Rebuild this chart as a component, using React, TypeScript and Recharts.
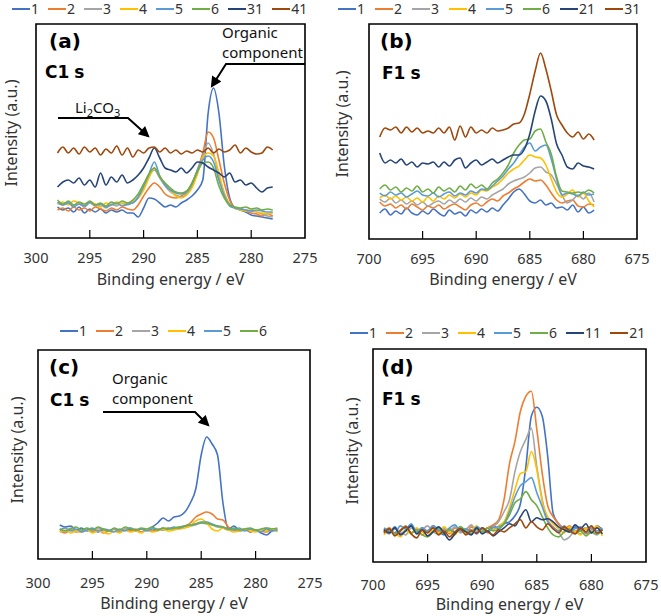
import React from 'react';
import { LineChart, Line, XAxis, YAxis, ReferenceArea, ReferenceLine } from 'recharts';

// ---------- x grids (binding energy, eV) ----------
const energyC = [298,297.5,297,296.5,296,295.5,295,294.5,294,293.5,293,292.5,292,291.5,291,290.5,290,289.5,289,288.5,288,287.5,287,286.5,286,285.5,285,284.5,284,283.5,283,282.5,282,281.5,281,280.5,280,279.5,279,278.5,278];
const energyF = [699,698.5,698,697.5,697,696.5,696,695.5,695,694.5,694,693.5,693,692.5,692,691.5,691,690.5,690,689.5,689,688.5,688,687.5,687,686.5,686,685.5,685,684.5,684,683.5,683,682.5,682,681.5,681,680.5,680,679.5,679];
const ticksC = [300, 295, 290, 285, 280, 275];
const ticksF = [700, 695, 690, 685, 680, 675];

// ---------- colours ----------
const C1 = '#4472C4', C2 = '#ED7D31', C3 = '#A5A5A5', C4 = '#FFC000', C5 = '#5B9BD5', C6 = '#70AD47', C7 = '#264478', C8 = '#9E480E';

// ---------- (a) C1s ----------
const a1 = [31,28,30,26,31,25,29,26,29,25,28,26,28,25,25,21,30,40,39,35,31,33,31,35,38,42,48,58,125,150,125,72,40,30,28,26,23,22,21,20,19];
const a2 = [28,30,27,31,28,30,27,31,29,27,30,28,31,29,28,33,42,50,55,51,44,41,40,42,46,55,68,85,106,100,78,55,38,30,29,27,25,24,22,24,22];
const a3 = [35,33,36,32,34,31,35,32,33,30,34,32,35,33,36,40,50,62,68,60,52,46,43,41,44,52,66,82,95,84,62,45,34,30,29,28,27,26,24,22,21];
const a4 = [34,36,33,37,35,33,36,34,31,35,33,36,34,35,37,40,48,60,70,62,54,47,42,40,43,50,64,80,85,82,65,44,33,30,28,27,28,26,25,24,25];
const a5 = [36,33,35,31,34,32,36,33,34,31,33,35,32,34,35,41,52,64,76,62,53,48,45,44,46,54,68,78,82,76,58,42,32,30,29,28,27,28,27,26,26];
const a6 = [38,34,37,33,36,34,37,33,35,32,36,34,37,35,38,44,54,64,70,61,55,50,46,45,47,55,66,75,76,70,52,40,33,31,30,31,29,30,28,29,28];
const a31 = [51,56,58,55,60,53,58,51,65,53,61,56,63,55,58,63,70,80,90,80,70,68,66,70,65,70,76,75,71,68,65,61,65,56,58,53,55,50,46,50,51];
const a41 = [85,91,85,90,84,91,86,90,83,89,85,92,83,90,81,88,85,90,91,86,90,85,88,84,87,85,88,86,90,85,89,86,88,93,85,90,86,84,85,91,88];

// ---------- (b) F1s ----------
const b1 = [26,30,24,28,25,31,26,24,28,25,30,26,23,29,25,27,23,29,26,30,27,31,28,34,40,47,50,45,38,36,39,34,36,31,32,29,34,27,32,26,29];
const b2 = [37,33,35,31,34,30,35,32,29,33,31,34,30,33,35,32,29,34,36,33,37,40,38,43,46,50,53,57,60,58,59,54,46,39,36,38,39,33,32,35,34];
const b3 = [40,37,41,36,39,35,38,34,37,33,36,38,35,39,36,40,37,41,38,42,40,44,47,50,55,58,60,62,66,71,72,67,64,55,44,36,39,44,40,46,37];
const b4 = [41,44,40,43,39,42,38,41,37,42,38,43,40,44,41,45,42,46,44,49,48,52,55,60,66,70,73,79,84,82,81,74,60,47,42,45,49,42,46,38,32];
const b5 = [46,43,47,44,46,42,45,48,44,43,46,42,45,47,43,46,44,48,46,50,49,53,58,63,70,76,84,92,96,88,92,94,80,60,44,46,45,43,47,44,45];
const b6 = [50,54,49,52,47,51,48,53,47,50,46,52,48,51,47,53,49,55,51,54,50,56,60,66,74,86,94,99,100,108,110,97,85,62,48,47,46,47,46,49,46];
const b21 = [86,76,79,76,80,74,77,72,76,75,77,72,77,73,79,81,71,76,79,74,77,80,76,79,82,84,84,90,105,128,143,138,120,95,84,72,70,76,73,72,70];
const b31 = [102,111,109,112,106,112,107,111,106,108,106,111,106,112,99,113,102,112,106,109,106,111,108,109,111,115,116,125,145,168,186,170,148,124,114,106,102,107,100,105,99];

// ---------- (c) C1s ----------
const c1 = [34,32,33,29,31,28,30,27,29,28,30,27,30,29,28,30,29,32,36,41,38,42,43,47,56,70,104,122,115,104,56,30,33,29,30,27,29,26,24,28,30];
const c2 = [28,26,29,27,28,30,27,29,26,28,30,27,29,28,30,27,29,28,30,29,31,30,32,33,36,42,45,47,45,40,39,32,29,28,30,27,29,28,27,29,28];
const c3 = [30,28,31,29,27,30,28,31,29,28,30,28,29,31,28,30,29,31,30,29,31,30,31,32,33,34,36,35,34,32,31,29,30,28,29,30,28,29,31,30,29];
const c4 = [27,29,26,28,27,29,26,28,27,25,28,26,29,27,28,26,29,27,28,30,28,29,30,31,33,38,40,36,30,28,31,29,27,28,30,28,27,29,28,30,27];
const c5 = [29,31,28,30,27,29,31,28,30,29,27,30,28,31,29,30,28,30,29,31,30,32,31,33,34,35,37,37,35,33,32,30,29,31,28,30,29,27,30,28,29];
const c6 = [30,28,30,32,29,31,29,32,30,28,31,29,32,30,29,31,30,32,29,31,30,31,32,33,34,35,36,36,34,33,32,30,31,29,30,31,29,30,31,30,31];

// ---------- (d) F1s ----------
const d1 = [33,30,35,28,32,37,29,34,30,36,31,27,33,30,35,29,32,28,34,31,36,33,38,40,46,58,95,145,154,145,105,48,38,33,30,35,31,34,29,36,32];
const d2 = [30,34,28,32,36,29,33,27,31,35,30,33,28,34,31,29,35,32,30,34,37,42,62,98,120,150,165,170,132,88,56,45,38,33,36,30,34,28,32,35,31];
const d3 = [31,28,33,30,27,34,29,32,36,30,28,33,31,35,29,32,37,30,33,29,35,40,50,62,90,110,122,133,95,62,42,35,30,22,25,31,28,33,30,27,32];
const d4 = [27,32,29,25,31,28,34,30,26,32,29,35,30,27,33,29,31,36,30,34,32,36,40,54,72,88,90,110,92,60,45,38,33,29,35,31,27,34,30,36,26];
const d5 = [34,31,29,36,33,38,30,34,31,36,32,29,34,37,31,33,30,35,32,31,34,35,38,50,65,76,80,84,69,55,40,34,31,36,30,33,35,29,34,31,34];
const d6 = [30,33,28,31,35,29,32,27,25,30,34,28,32,29,35,31,28,33,30,34,31,33,38,47,59,63,70,62,56,45,34,27,25,30,33,28,31,26,30,28,32];
const d11 = [32,29,34,27,31,36,28,32,26,30,35,29,22,28,33,30,27,34,28,31,26,30,34,38,36,45,52,40,44,42,43,40,35,32,30,37,33,38,29,34,28];
const d21 = [29,33,26,31,35,28,24,32,29,34,27,31,25,30,33,27,31,29,34,30,27,32,30,34,38,42,34,40,35,32,38,33,29,35,31,28,34,30,36,29,32];

type Series = { name: string; values: number[]; color: string };
type PanelCfg = {
  left: number; top: number; width: number; height: number;
  plot: { l: number; r: number; t: number; b: number };
  energy: number[]; ticks: number[]; domain: [number, number]; yMax: number;
  tickMargin: number; xLabelY: number; yLabelX: number; yLabelY: number;
  legendStart: number; legendY: number; legendGap: number;
  series: Series[];
};

const FONT = '"Noto Sans", "DejaVu Sans", sans-serif';
const BOLD = '"DejaVu Sans", sans-serif';

const panels: PanelCfg[] = [
  {
    left: 0, top: 0, width: 330, height: 300, plot: { l: 36, r: 305, t: 24, b: 238 },
    energy: energyC, ticks: ticksC, domain: [275, 300], yMax: 214, tickMargin: 9,
    xLabelY: 285, yLabelX: 11, yLabelY: 133, legendStart: 12, legendY: 8, legendGap: 9,
    series: [
      { name: '1', values: a1, color: C1 }, { name: '2', values: a2, color: C2 },
      { name: '3', values: a3, color: C3 }, { name: '4', values: a4, color: C4 },
      { name: '5', values: a5, color: C5 }, { name: '6', values: a6, color: C6 },
      { name: '31', values: a31, color: C7 }, { name: '41', values: a41, color: C8 },
    ],
  },
  {
    left: 330, top: 0, width: 331, height: 300, plot: { l: 39, r: 307, t: 24, b: 239 },
    energy: energyF, ticks: ticksF, domain: [675, 700], yMax: 215, tickMargin: 9,
    xLabelY: 285, yLabelX: 342, yLabelY: 124, legendStart: 338, legendGap: 10, legendY: 8,
    series: [
      { name: '1', values: b1, color: C1 }, { name: '2', values: b2, color: C2 },
      { name: '3', values: b3, color: C3 }, { name: '4', values: b4, color: C4 },
      { name: '5', values: b5, color: C5 }, { name: '6', values: b6, color: C6 },
      { name: '21', values: b21, color: C7 }, { name: '31', values: b31, color: C8 },
    ],
  },
  {
    left: 0, top: 300, width: 330, height: 316, plot: { l: 38, r: 310, t: 50, b: 259 },
    energy: energyC, ticks: ticksC, domain: [275, 300], yMax: 209, tickMargin: 13,
    xLabelY: 609, yLabelX: 17, yLabelY: 450, legendStart: 60, legendY: 330, legendGap: 9,
    series: [
      { name: '1', values: c1, color: C1 }, { name: '2', values: c2, color: C2 },
      { name: '3', values: c3, color: C3 }, { name: '4', values: c4, color: C4 },
      { name: '5', values: c5, color: C5 }, { name: '6', values: c6, color: C6 },
    ],
  },
  {
    left: 330, top: 300, width: 331, height: 316, plot: { l: 43, r: 316, t: 49, b: 262 },
    energy: energyF, ticks: ticksF, domain: [675, 700], yMax: 212, tickMargin: 11.5,
    xLabelY: 610, yLabelX: 352, yLabelY: 451, legendStart: 350, legendY: 332, legendGap: 9,
    series: [
      { name: '1', values: d1, color: C1 }, { name: '2', values: d2, color: C2 },
      { name: '3', values: d3, color: C3 }, { name: '4', values: d4, color: C4 },
      { name: '5', values: d5, color: C5 }, { name: '6', values: d6, color: C6 },
      { name: '11', values: d11, color: C7 }, { name: '21', values: d21, color: C8 },
    ],
  },
];

const AXH = 50;
const TICK_LEN = 8; // inward tick length (y-units equal pixels here)

function Panel({ p }: { p: PanelCfg }) {
  const rows = p.energy.map((x, i) => {
    const r: Record<string, number> = { x };
    p.series.forEach((s, j) => { r['s' + j] = s.values[i]; });
    return r;
  });
  const margin = { top: p.plot.t, left: p.plot.l, right: p.width - p.plot.r, bottom: p.height - p.plot.b - AXH };
  const inner = p.ticks.filter((t) => t > p.domain[0] && t < p.domain[1]);
  return (
    <div style={{ position: 'absolute', left: p.left, top: p.top, width: p.width, height: p.height }}>
      <LineChart width={p.width} height={p.height} data={rows} margin={margin}>
        <XAxis
          dataKey="x" type="number" domain={p.domain} reversed ticks={p.ticks} interval={0}
          allowDataOverflow height={AXH} axisLine={false} tickLine={false} tickMargin={p.tickMargin}
          tick={{ fontSize: 14.5, fill: '#333', fontFamily: FONT }}
        />
        <YAxis type="number" domain={[0, p.yMax]} width={0} hide allowDataOverflow />
        {p.series.map((s, j) => (
          <Line key={j} dataKey={'s' + j} name={s.name} stroke={s.color} strokeWidth={1.6}
            dot={false} type="monotone" isAnimationActive={false} />
        ))}
        {inner.map((t) => (
          <ReferenceLine key={t} segment={[{ x: t, y: 0 }, { x: t, y: TICK_LEN }]} stroke="#000" strokeWidth={1.2} ifOverflow="visible" />
        ))}
        <ReferenceArea x1={p.domain[1]} x2={p.domain[0]} y1={0} y2={p.yMax} fill="none" fillOpacity={0}
          stroke="#000" strokeWidth={1.6} ifOverflow="visible" />
      </LineChart>
    </div>
  );
}

function LegendRow({ p }: { p: PanelCfg }) {
  return (
    <div style={{
      position: 'absolute', left: p.legendStart, top: p.legendY - 7, height: 15,
      display: 'flex', alignItems: 'center',
      fontFamily: FONT, fontSize: 14, color: '#333', whiteSpace: 'nowrap', lineHeight: '15px',
    }}>
      {p.series.map((s, i) => (
        <div key={i} style={{ display: 'flex', alignItems: 'center', marginRight: i < p.series.length - 1 ? p.legendGap : 0 }}>
          <div style={{ width: 18, height: 2, background: s.color }} />
          <span style={{ marginLeft: 1 }}>{s.name}</span>
        </div>
      ))}
    </div>
  );
}

function Overlay() {
  const txt = { fontFamily: FONT, fontSize: 15, fill: '#111' } as const;
  const bold = { fontFamily: BOLD, fontWeight: 700, fill: '#000' } as const;
  return (
    <svg width={661} height={616} style={{ position: 'absolute', left: 0, top: 0, pointerEvents: 'none' }}>
      <defs>
        <marker id="ah" viewBox="0 0 10 10" refX="8" refY="5" markerWidth="6" markerHeight="5.5" orient="auto" markerUnits="strokeWidth">
          <path d="M0,0 L10,5 L0,10 z" fill="#000" />
        </marker>
      </defs>
      {panels.map((p, i) => (
        <g key={i}>
          <text x={p.left + (p.plot.l + p.plot.r) / 2} y={p.xLabelY} textAnchor="middle"
            fontFamily={FONT} fontSize={16} fill="#333">Binding energy / eV</text>
          <text x={p.yLabelX} y={p.yLabelY} textAnchor="middle" dominantBaseline="central"
            transform={`rotate(-90 ${p.yLabelX} ${p.yLabelY})`} fontFamily={FONT} fontSize={16} fill="#333">Intensity (a.u.)</text>
        </g>
      ))}
      {/* (a) */}
      <text x={49} y={48} fontSize={20} {...bold}>(a)</text>
      <text x={45} y={78} fontSize={17} {...bold}>C1<tspan dx={5}>s</tspan></text>
      <text x={222} y={37.5} {...txt}>Organic</text>
      <text x={222} y={58} {...txt}>component</text>
      <polyline points="305,64 226,64 212,86" fill="none" stroke="#000" strokeWidth={2} markerEnd="url(#ah)" />
      <text x={75} y={113} {...txt}>Li<tspan dy={4} fontSize={11}>2</tspan><tspan dy={-4}>CO</tspan><tspan dy={4} fontSize={11}>3</tspan></text>
      <polyline points="58,118 128,118 148,136" fill="none" stroke="#000" strokeWidth={2} markerEnd="url(#ah)" />
      {/* (b) */}
      <text x={380} y={48} fontSize={20} {...bold}>(b)</text>
      <text x={382} y={79} fontSize={17} {...bold}>F1<tspan dx={5}>s</tspan></text>
      {/* (c) */}
      <text x={49} y={374} fontSize={20} {...bold}>(c)</text>
      <text x={50} y={406} fontSize={17} {...bold}>C1<tspan dx={5}>s</tspan></text>
      <text x={112} y={383.5} {...txt}>Organic</text>
      <text x={112} y={404} {...txt}>component</text>
      <polyline points="103,412 195,412 208,425" fill="none" stroke="#000" strokeWidth={2} markerEnd="url(#ah)" />
      {/* (d) */}
      <text x={381} y={374} fontSize={20} {...bold}>(d)</text>
      <text x={382} y={405} fontSize={17} {...bold}>F1<tspan dx={5}>s</tspan></text>
    </svg>
  );
}

export default function App() {
  return (
    <div style={{ position: 'absolute', left: 0, top: 0, width: 661, height: 616, background: '#fff', overflow: 'hidden' }}>
      {panels.map((p, i) => <Panel key={i} p={p} />)}
      {panels.map((p, i) => <LegendRow key={'l' + i} p={p} />)}
      <Overlay />
    </div>
  );
}
